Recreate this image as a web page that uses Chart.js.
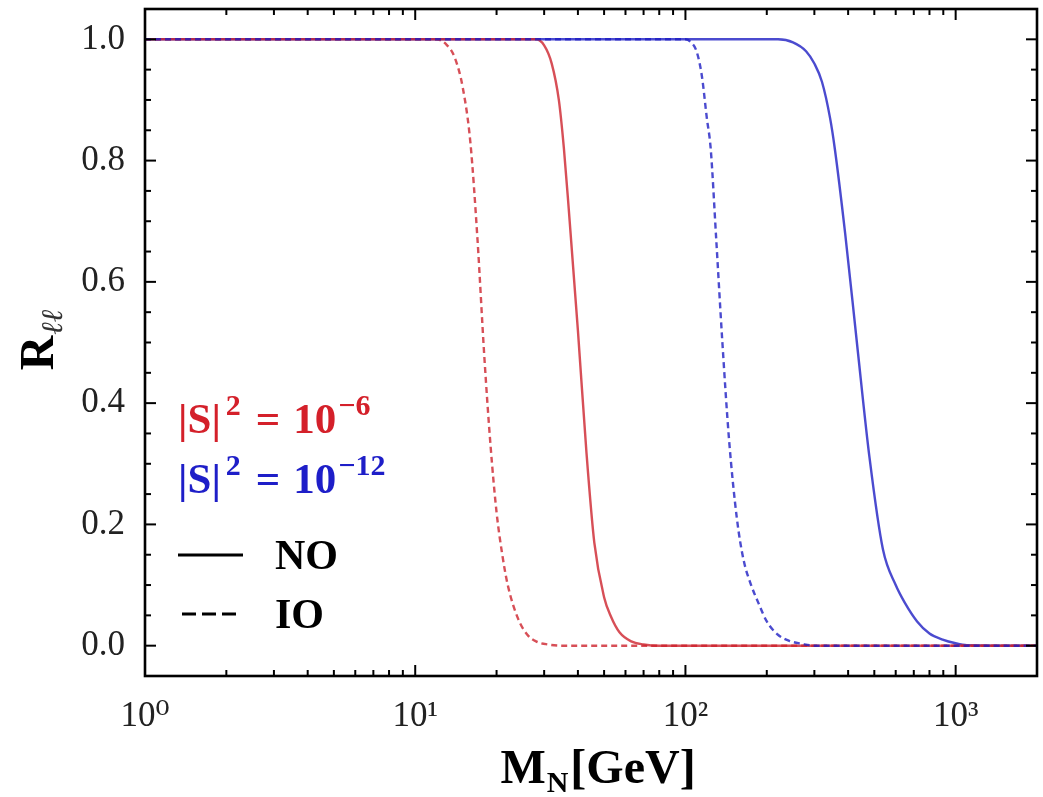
<!DOCTYPE html>
<html>
<head>
<meta charset="utf-8">
<script src="https://cdn.jsdelivr.net/npm/chart.js@4.4.1/dist/chart.umd.min.js"></script>
<style>
  html, body { margin: 0; padding: 0; background: #ffffff; }
  #wrap { position: relative; width: 1043px; height: 797px; }
  canvas { display: block; }
</style>
</head>
<body>
<div id="wrap"><canvas id="c" width="1043" height="797"></canvas></div>
<script>
// ---------------- data ----------------
const xTickValues = [1, 10, 100, 1000];
const xTickLabels = ['10\u2070', '10\u00B9', '10\u00B2', '10\u00B3'];
const yTickValues = [0, 0.2, 0.4, 0.6, 0.8, 1.0];

// |S|^2 = 1e-6, IO (red dashed)
const redIO_M = [1, 12, 13, 14, 15, 16, 17, 18, 19, 20, 21, 22, 24, 26, 28, 31, 35, 2000];
const redIO_R = [1, 1, 0.992, 0.97, 0.92, 0.83, 0.67, 0.48, 0.33, 0.22, 0.15, 0.10, 0.045, 0.018, 0.007, 0.002, 0, 0];
// |S|^2 = 1e-6, NO (red solid)
const redNO_M = [1, 28, 30, 32, 34, 35.5, 37, 40, 43, 46, 50, 53, 57, 63, 70, 80, 2000];
const redNO_R = [1, 1, 0.99, 0.96, 0.90, 0.82, 0.72, 0.52, 0.32, 0.17, 0.08, 0.048, 0.022, 0.007, 0.002, 0, 0];
// |S|^2 = 1e-12, IO (blue dashed)
const blueIO_M = [1, 100, 105, 110, 115, 120, 124, 130, 137, 145, 155, 164, 175, 186, 200, 220, 242, 270, 300, 2000];
const blueIO_R = [1, 1, 0.995, 0.98, 0.94, 0.87, 0.82, 0.67, 0.50, 0.34, 0.21, 0.142, 0.10, 0.071, 0.04, 0.018, 0.008, 0.003, 0, 0];
// |S|^2 = 1e-12, NO (blue solid)
const blueNO_M = [1, 220, 250, 280, 300, 320, 343, 357, 390, 431, 480, 538, 600, 648, 720, 800, 895, 1000, 1100, 2000];
const blueNO_R = [1, 1, 0.995, 0.98, 0.96, 0.93, 0.87, 0.82, 0.68, 0.50, 0.31, 0.159, 0.10, 0.071, 0.04, 0.02, 0.01, 0.004, 0.001, 0];

const RED = 'rgba(205, 35, 45, 0.8)';
const BLUE = 'rgba(30, 30, 195, 0.8)';
const RED_TXT = 'rgb(212, 32, 42)';
const BLUE_TXT = 'rgb(30, 30, 200)';
const SERIF = '"Liberation Serif", "DejaVu Serif", serif';

function pts(xs, ys) { return xs.map((x, i) => ({ x: x, y: ys[i] })); }

// ---------------- frame + inward ticks on all four sides ----------------
const framePlugin = {
  id: 'frame',
  afterDatasetsDraw(chart) {
    const { ctx, chartArea: a, scales } = chart;
    const xs = scales.x, ys = scales.y;
    ctx.save();
    ctx.strokeStyle = '#000';
    ctx.lineWidth = 2;
    const tick = (x1, y1, x2, y2) => { ctx.beginPath(); ctx.moveTo(x1, y1); ctx.lineTo(x2, y2); ctx.stroke(); };
    const xMin = xs.min, xMax = xs.max;
    for (const d of xTickValues) {
      for (let k = 1; k <= 9; k++) {
        const v = d * k;
        if (v < xMin || v > xMax) continue;
        const px = xs.getPixelForValue(v);
        const len = (k === 1) ? 11 : 6;
        tick(px, a.bottom, px, a.bottom - len);
        tick(px, a.top, px, a.top + len);
      }
    }
    for (let i = -1; i <= 21; i++) {
      const v = i * 0.05;
      if (v < ys.min - 1e-9 || v > ys.max + 1e-9) continue;
      const py = ys.getPixelForValue(v);
      const len = (i % 4 === 0) ? 11 : 6;
      tick(a.left, py, a.left + len, py);
      tick(a.right, py, a.right - len, py);
    }
    ctx.lineWidth = 2.6;
    ctx.strokeRect(a.left, a.top, a.right - a.left, a.bottom - a.top);
    ctx.restore();
  }
};

// ---------------- legend + axis titles ----------------
function drawRun(ctx, x, y, parts) {
  let cx = x;
  for (const p of parts) {
    ctx.font = p.font;
    ctx.fillStyle = p.color;
    ctx.fillText(p.t, cx + (p.dx || 0), y + (p.dy || 0));
    cx += ctx.measureText(p.t).width + (p.dx || 0);
  }
  return cx;
}
function runWidth(ctx, parts) {
  let w = 0;
  for (const p of parts) { ctx.font = p.font; w += ctx.measureText(p.t).width + (p.dx || 0); }
  return w;
}

const textPlugin = {
  id: 'texts',
  afterDraw(chart) {
    const { ctx, chartArea: a } = chart;
    ctx.save();
    ctx.textBaseline = 'alphabetic';
    ctx.textAlign = 'left';
    const big = 'bold 43px ' + SERIF;
    const sup = 'bold 30px ' + SERIF;
    const L = a.left + 33;
    drawRun(ctx, L, 433, [
      { t: '|S|', font: big, color: RED_TXT },
      { t: '2', font: sup, color: RED_TXT, dy: -18, dx: 5 },
      { t: '=', font: big, color: RED_TXT, dx: 15 },
      { t: '10', font: big, color: RED_TXT, dx: 13 },
      { t: '\u22126', font: sup, color: RED_TXT, dy: -18, dx: 2 }
    ]);
    drawRun(ctx, L, 493, [
      { t: '|S|', font: big, color: BLUE_TXT },
      { t: '2', font: sup, color: BLUE_TXT, dy: -18, dx: 5 },
      { t: '=', font: big, color: BLUE_TXT, dx: 15 },
      { t: '10', font: big, color: BLUE_TXT, dx: 13 },
      { t: '\u221212', font: sup, color: BLUE_TXT, dy: -18, dx: 2 }
    ]);
    ctx.strokeStyle = '#000';
    ctx.lineWidth = 3;
    ctx.beginPath(); ctx.moveTo(a.left + 33, 555); ctx.lineTo(a.left + 98, 555); ctx.stroke();
    ctx.setLineDash([14, 6]);
    ctx.beginPath(); ctx.moveTo(a.left + 37, 614); ctx.lineTo(a.left + 94, 614); ctx.stroke();
    ctx.setLineDash([]);
    ctx.font = 'bold 42px ' + SERIF;
    ctx.fillStyle = '#000';
    ctx.fillText('NO', a.left + 130, 569);
    ctx.fillText('IO', a.left + 130, 628);

    const tf = 'bold 48px ' + SERIF, sf = 'bold 30px ' + SERIF;
    const xParts = [
      { t: 'M', font: tf, color: '#000' },
      { t: 'N', font: sf, color: '#000', dy: 9, dx: 1 },
      { t: '[GeV]', font: tf, color: '#000', dx: 2 }
    ];
    const w = runWidth(ctx, xParts);
    drawRun(ctx, 598 - w / 2, 783, xParts);

    ctx.translate(53, 340);
    ctx.rotate(-Math.PI / 2);
    const yParts = [
      { t: 'R', font: 'bold 48px ' + SERIF, color: '#000' },
      { t: '\u2113\u2113', font: 'italic 30px ' + SERIF, color: '#333', dy: 9, dx: 1 }
    ];
    const wy = runWidth(ctx, yParts);
    drawRun(ctx, -wy / 2, 0, yParts);
    ctx.restore();
  }
};

// ---------------- chart ----------------
// dataset 0 is drawn on top
new Chart(document.getElementById('c'), {
  type: 'line',
  data: {
    datasets: [
      { label: 'IO, |S|^2=1e-12', data: pts(blueIO_M, blueIO_R), borderColor: BLUE, borderDash: [6, 4] },
      { label: 'IO, |S|^2=1e-6', data: pts(redIO_M, redIO_R), borderColor: RED, borderDash: [6, 4] },
      { label: 'NO, |S|^2=1e-6', data: pts(redNO_M, redNO_R), borderColor: RED },
      { label: 'NO, |S|^2=1e-12', data: pts(blueNO_M, blueNO_R), borderColor: BLUE }
    ]
  },
  options: {
    responsive: false,
    animation: false,
    devicePixelRatio: 1,
    layout: { padding: { top: 9, right: 6, left: 0, bottom: 0 } },
    elements: {
      point: { radius: 0, hoverRadius: 0 },
      line: { borderWidth: 2.4, fill: false, cubicInterpolationMode: 'monotone' }
    },
    plugins: { legend: { display: false }, tooltip: { enabled: false }, title: { display: false } },
    scales: {
      x: {
        type: 'logarithmic',
        min: 1,
        max: 2000,
        grid: { display: false, drawTicks: false },
        border: { display: false },
        afterBuildTicks(s) { s.ticks = xTickValues.map(v => ({ value: v, major: true })); },
        afterFit(s) { s.height = 121; s.paddingLeft = 0; s.paddingRight = 0; },
        ticks: {
          autoSkip: false,
          maxRotation: 0,
          padding: 20,
          color: '#222',
          font: { family: SERIF, size: 35 },
          callback(value) {
            const i = xTickValues.indexOf(value);
            return i >= 0 ? xTickLabels[i] : '';
          }
        }
      },
      y: {
        type: 'linear',
        min: -0.05,
        max: 1.05,
        grid: { display: false, drawTicks: false },
        border: { display: false },
        afterBuildTicks(s) { s.ticks = yTickValues.map(v => ({ value: v })); },
        afterFit(s) { s.width = 145; s.paddingTop = 0; s.paddingBottom = 0; },
        ticks: {
          padding: 20,
          color: '#222',
          font: { family: SERIF, size: 35 },
          callback(value) { return Number(value).toFixed(1); }
        }
      }
    }
  },
  plugins: [framePlugin, textPlugin]
});
</script>
</body>
</html>
